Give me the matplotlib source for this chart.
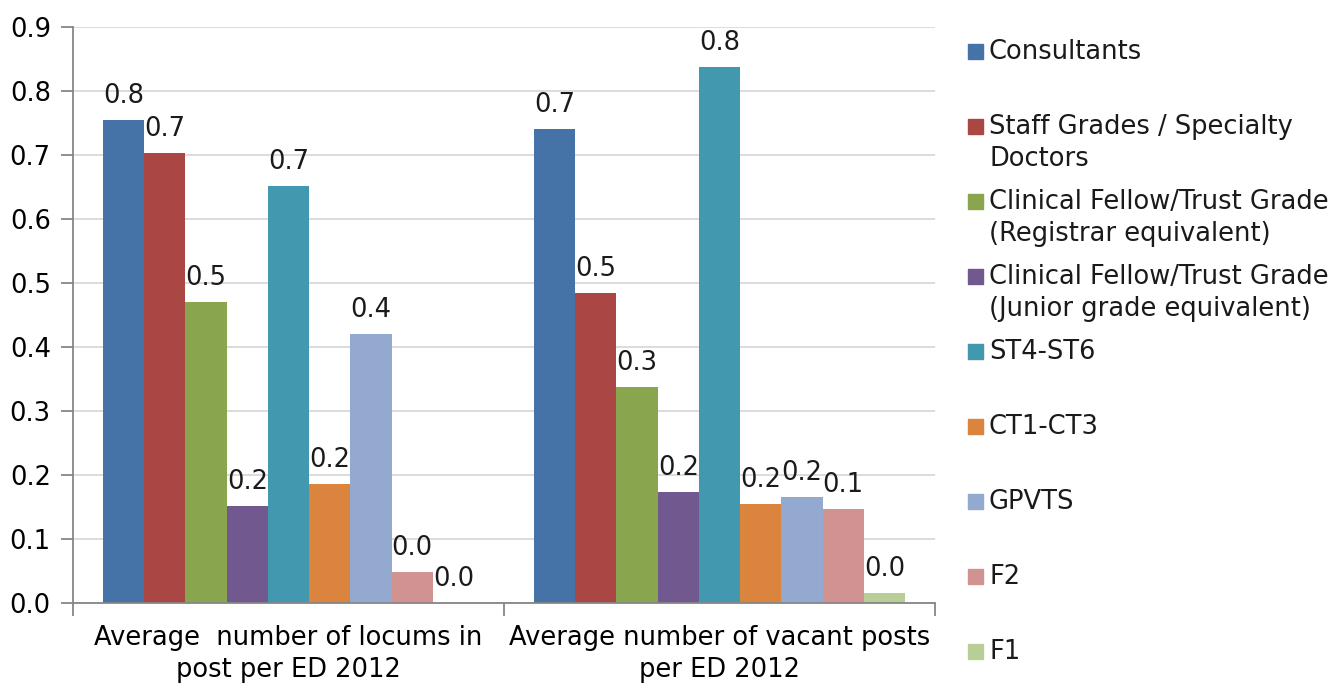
import numpy as np
import matplotlib.pyplot as plt
from matplotlib.patches import Rectangle

plt.rcParams['font.family'] = ['DejaVu Sans']

# categories on the x axis
categories = ['Average  number of locums in\npost per ED 2012',
              'Average number of vacant posts\nper ED 2012']

# series (grades) and their values per category
series = ['Consultants',
          'Staff Grades / Specialty\nDoctors',
          'Clinical Fellow/Trust Grade\n(Registrar equivalent)',
          'Clinical Fellow/Trust Grade\n(Junior grade equivalent)',
          'ST4-ST6', 'CT1-CT3', 'GPVTS', 'F2', 'F1']
locums = [0.755, 0.703, 0.470, 0.152, 0.652, 0.186, 0.420, 0.048, 0.0]
vacant = [0.741, 0.484, 0.337, 0.173, 0.837, 0.155, 0.165, 0.147, 0.016]

colors = ['#4572A7', '#AA4643', '#89A54E', '#71588F', '#4198AF',
          '#DB843D', '#93A9CF', '#D19392', '#B9CD96']

W, H = 1333, 684
fig = plt.figure(figsize=(W / 100, H / 100), dpi=100)
ax = fig.add_axes([73 / W, 1 - 603 / H, (935 - 73) / W, (603 - 27) / H])

x = np.arange(len(categories))
w = 0.0956
fs = 18.5
for i, name in enumerate(series):
    vals = [locums[i], vacant[i]]
    bars = ax.bar(x + (i - 4) * w, vals, w, color=colors[i], zorder=2)
    ax.bar_label(bars, fmt='%.1f', padding=8, fontsize=fs, color='#1a1a1a')

ax.set_xlim(-0.5, 1.5)
ax.set_ylim(0, 0.9)
ax.set_yticks(np.arange(0, 0.91, 0.1))
ax.set_yticklabels([f'{v:.1f}' for v in np.arange(0, 0.91, 0.1)], fontsize=fs)
ax.yaxis.grid(True, color='#d9d9d9', linewidth=1.3, zorder=0)
ax.set_axisbelow(True)

ax.set_xticks([-0.5, 0.5, 1.5])
ax.set_xticklabels([])
ax.set_xticks(x, categories, minor=True, fontsize=fs, linespacing=1.3)
ax.tick_params(axis='x', which='minor', length=0, pad=16)
ax.tick_params(axis='both', which='major', length=9, width=1.3, color='#868686')
ax.tick_params(axis='y', pad=7)

for s in ['top', 'right']:
    ax.spines[s].set_visible(False)
for s in ['left', 'bottom']:
    ax.spines[s].set_color('#868686')
    ax.spines[s].set_linewidth(1.3)

# legend drawn by hand: square lines up with the first text line
for i, name in enumerate(series):
    yc = 52 + 75 * i
    fig.add_artist(Rectangle((968 / W, 1 - (yc + 7) / H), 15 / W, 15 / H,
                             transform=fig.transFigure, color=colors[i]))
    fig.text(989 / W, 1 - (yc - 13) / H, name, fontsize=fs, va='top',
             ha='left', linespacing=1.3, color='#1a1a1a')

fig.savefig('out.png', dpi=100)
